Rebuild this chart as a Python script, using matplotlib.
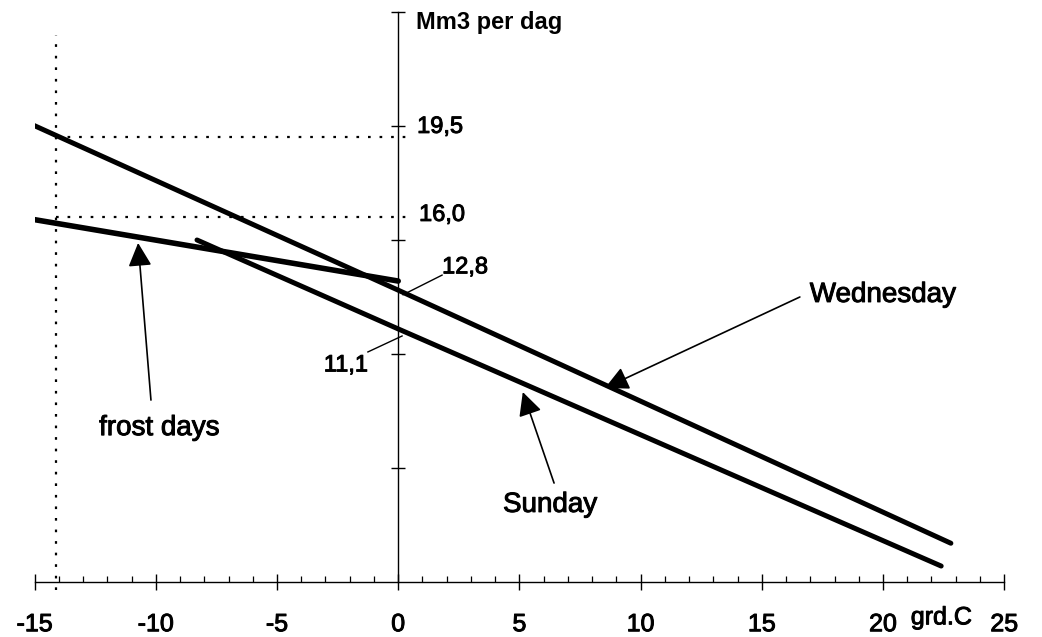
import matplotlib
matplotlib.use("Agg")
import matplotlib.pyplot as plt
import matplotlib.patheffects as pe
from matplotlib.ticker import MultipleLocator

plt.rcParams['font.family'] = ['Liberation Sans', 'DejaVu Sans']

# regression lines: gas demand (Mm3 per day) vs temperature (grd.C)
wed_x = [-15.6, 0.0, 22.8]
wed_y = [20.3, 12.8, 1.7]
sun_x = [-8.3, 0.0, 22.4]
sun_y = [15.0, 11.1, 0.7]
frost_x = [-15.6, 0.0]
frost_y = [16.0, 13.2]

# reference readings
ref_temp = -14.1
ref_levels = [19.5, 16.0]
ref_labels = ["19,5", "16,0"]

xticks = [-15, -10, -5, 0, 5, 10, 15, 20, 25]

# scanned print looks a bit heavier than plain text
heavy = [pe.withStroke(linewidth=0.7, foreground="black")]

fig = plt.figure(figsize=(10.42, 6.37), dpi=100)
ax = fig.add_axes([34.6 / 1042, 55 / 637, 969.6 / 1042, 570 / 637])
ax.set_xlim(-15, 25)
ax.set_ylim(0, 25)

# axes: x at bottom, y through zero
for s in ["top", "right"]:
    ax.spines[s].set_visible(False)
ax.spines["left"].set_position(("data", 0))
ax.spines["left"].set_linewidth(1.0)
ax.spines["bottom"].set_linewidth(1.0)

ax.set_xticks(xticks)
ax.set_xticklabels([str(t) for t in xticks])
ax.xaxis.set_minor_locator(MultipleLocator(1))
ax.tick_params(axis="x", which="major", direction="inout", length=11.5, width=1.0,
               labelsize=18, pad=16)
ax.tick_params(axis="x", which="minor", direction="in", length=4.3, width=0.9)
for lbl in ax.get_xticklabels():
    lbl.set_path_effects(heavy)
ax.set_yticks([5, 10, 15, 20, 25])
ax.set_yticklabels([])
ax.tick_params(axis="y", direction="inout", length=10, width=1.0)

# dotted reference lines
dot = (0, (1.2, 4))
ax.plot([ref_temp, ref_temp], [-0.35, 24.0], color="black", lw=1.6, ls=dot, clip_on=False)
for lev in ref_levels:
    ax.plot([ref_temp, 0.6], [lev, lev], color="black", lw=1.6, ls=dot)

# data lines
ax.plot(wed_x, wed_y, color="black", lw=3.6, solid_capstyle="round")
ax.plot(sun_x, sun_y, color="black", lw=3.6, solid_capstyle="round")
ax.plot(frost_x, frost_y, color="black", lw=4.0, solid_capstyle="round")

# value labels
ax.text(0.78, 19.96, ref_labels[0], fontsize=17, va="center", ha="left", path_effects=heavy)
ax.text(0.86, 16.1, ref_labels[1], fontsize=17, va="center", ha="left", path_effects=heavy)
ax.text(1.81, 13.8, "12,8", fontsize=17, va="center", ha="left", path_effects=heavy)
ax.plot([0.2, 1.81], [12.6, 13.46], color="black", lw=1.0)
ax.text(-1.25, 9.5, "11,1", fontsize=17, va="center", ha="right", path_effects=heavy)
ax.plot([0.16, -1.25], [10.79, 10.09], color="black", lw=1.0)

ax.text(0.73, 24.56, "Mm3 per dag", fontsize=17, fontweight="bold", va="center", ha="left")
ax.text(22.4, -1.55, "grd.C", fontsize=18, va="center", ha="center", clip_on=False,
        path_effects=heavy)

# arrows with series names
aprops = dict(arrowstyle="-|>,head_length=0.6,head_width=0.3", mutation_scale=24,
              color="black", lw=1.2, shrinkA=0, shrinkB=0)
ax.annotate("", xy=(-10.73, 14.87), xytext=(-10.2, 7.98), arrowprops=aprops)
ax.text(-9.86, 6.75, "frost days", fontsize=20, va="center", ha="center", path_effects=heavy)
ax.annotate("", xy=(5.14, 8.33), xytext=(6.43, 4.34), arrowprops=aprops)
ax.text(6.26, 3.38, "Sunday", fontsize=20, va="center", ha="center", path_effects=heavy)
ax.annotate("", xy=(8.53, 8.51), xytext=(16.57, 12.5), arrowprops=aprops)
ax.text(16.98, 12.59, "Wednesday", fontsize=20, va="center", ha="left", path_effects=heavy)

fig.savefig("out.png", dpi=100)
